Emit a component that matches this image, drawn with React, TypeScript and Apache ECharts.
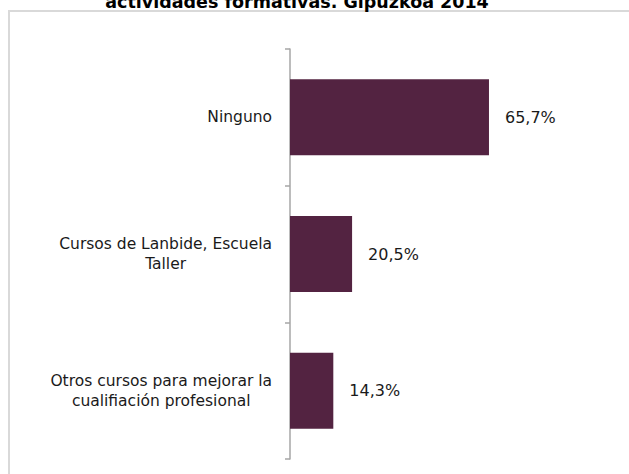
import React, { useEffect, useRef } from "react";
import * as echarts from "echarts";

const titleText = "actividades formativas. Gipuzkoa 2014";
const categories = [
  "Ninguno",
  "Cursos de Lanbide, Escuela\nTaller",
  "Otros cursos para mejorar la\ncualifiación profesional",
];
const values = [65.7, 20.5, 14.3];

const FONT = "Verdana, 'DejaVu Sans', sans-serif";

export default function App() {
  const ref = useRef<HTMLDivElement>(null);
  useEffect(() => {
    if (!ref.current) return;
    const chart = echarts.init(ref.current, undefined, { renderer: "svg" });
    chart.setOption({
      animation: false,
      backgroundColor: "#ffffff",
      graphic: [
        {
          type: "rect",
          shape: { x: 9, y: 11, width: 660, height: 520 },
          style: { fill: "none", stroke: "#d9d9d9", lineWidth: 2 },
          silent: true,
        },
        {
          type: "text",
          x: 297,
          y: 10.5,
          style: {
            text: titleText,
            font: `bold 17.5px ${FONT}`,
            fill: "#000000",
            align: "center",
            verticalAlign: "bottom",
          },
        },
      ],
      grid: { left: 290, top: 49, width: 212, height: 410, containLabel: false },
      xAxis: {
        type: "value",
        min: 0,
        max: 70,
        show: false,
      },
      yAxis: {
        type: "category",
        inverse: true,
        data: categories,
        axisLine: { show: true, lineStyle: { color: "#a6a6a6", width: 1.5 } },
        axisTick: { show: true, length: 5, lineStyle: { color: "#a6a6a6", width: 1.5 } },
        axisLabel: {
          margin: 18,
          align: "right",
          formatter: (v: string) =>
            v
              .split("\n")
              .map((l) => `{c|${l}}`)
              .join("\n"),
          rich: {
            c: {
              align: "center",
              fontSize: 15.5,
              lineHeight: 20,
              fontFamily: FONT,
              color: "#1a1a1a",
            },
          },
        },
        splitLine: { show: false },
      },
      series: [
        {
          type: "bar",
          data: values,
          barWidth: 76,
          itemStyle: { color: "#532341" },
          label: {
            show: true,
            position: "right",
            distance: 16,
            fontSize: 16,
            fontFamily: FONT,
            color: "#1a1a1a",
            formatter: (p: any) => p.value.toFixed(1).replace(".", ",") + "%",
          },
        },
      ],
    });
    return () => chart.dispose();
  }, []);
  return (
    <div
      ref={ref}
      style={{ position: "absolute", left: 0, top: 0, width: 629, height: 474 }}
    />
  );
}
